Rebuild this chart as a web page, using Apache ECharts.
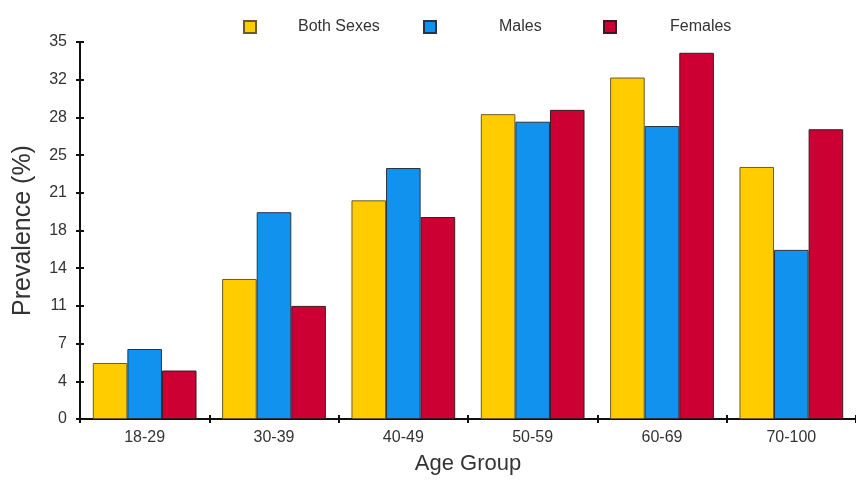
<!DOCTYPE html>
<html>
<head>
<meta charset="utf-8">
<script src="https://cdn.jsdelivr.net/npm/echarts@6/dist/echarts.min.js"></script>
<style>
html,body{margin:0;padding:0;background:#fff;}
#chart{width:856px;height:480px;}
</style>
</head>
<body>
<div id="chart"></div>
<script>
const categories = ['18-29', '30-39', '40-49', '50-59', '60-69', '70-100'];
const bothSexes = [5.2, 13.0, 20.3, 28.3, 31.7, 23.4];
const males = [6.5, 19.2, 23.3, 27.6, 27.2, 15.7];
const females = [4.5, 10.5, 18.75, 28.7, 34.0, 26.9];
const yTickLabels = ['0', '4', '7', '11', '14', '18', '21', '25', '28', '32', '35'];

const FONT = 'Liberation Sans, Arial, sans-serif';
const chart = echarts.init(document.getElementById('chart'));

function legendFor(name, left, pad) {
  return {
    data: [name], left: left, top: 19, padding: 0, itemWidth: 12, itemHeight: 12, icon: 'rect',
    textStyle: { fontFamily: FONT, fontSize: 16, color: '#333', padding: [0, 0, 0, pad] }
  };
}

const yBase = { type: 'value', min: 0, max: 35, interval: 3.5 };

chart.setOption({
  animation: false,
  backgroundColor: '#fff',
  legend: [
    legendFor('Both Sexes', 243, 37),
    legendFor('Males', 423, 58),
    legendFor('Females', 603, 49)
  ],
  grid: { left: 80, top: 42, width: 786, height: 382 },
  xAxis: [{
    type: 'category', data: categories,
    name: 'Age Group', nameLocation: 'middle', nameGap: 34,
    nameTextStyle: { fontFamily: FONT, fontSize: 22, color: '#333' },
    axisLine: { lineStyle: { color: '#111', width: 2 } },
    axisTick: { show: true, length: 4, lineStyle: { color: '#111', width: 2 } },
    axisLabel: { fontFamily: FONT, fontSize: 16, color: '#333', margin: 11 }
  }, {
    type: 'category', data: categories, position: 'bottom',
    axisLine: { show: false },
    axisTick: { show: true, inside: true, length: 4, lineStyle: { color: '#111', width: 2 } },
    axisLabel: { show: false }
  }],
  yAxis: [Object.assign({}, yBase, {
    name: 'Prevalence (%)', nameLocation: 'middle', nameGap: 44,
    nameTextStyle: { fontFamily: FONT, fontSize: 25, color: '#333' },
    axisLine: { show: true, lineStyle: { color: '#111', width: 2 } },
    axisTick: { show: true, length: 4, lineStyle: { color: '#111', width: 2 } },
    splitLine: { show: false },
    axisLabel: {
      fontFamily: FONT, fontSize: 16, color: '#333', margin: 13,
      formatter: function (v) { return yTickLabels[Math.round(v / 3.5)]; }
    }
  }), Object.assign({}, yBase, {
    position: 'left',
    axisLine: { show: false },
    axisTick: { show: true, inside: true, length: 4, lineStyle: { color: '#111', width: 2 } },
    splitLine: { show: false },
    axisLabel: { show: false }
  })],
  series: [{
    name: 'Both Sexes', type: 'bar', data: bothSexes,
    barGap: '0%', barCategoryGap: '19.8%',
    itemStyle: { color: '#FFCC00', borderColor: '#6b5a2a', borderWidth: 1 }
  }, {
    name: 'Males', type: 'bar', data: males,
    itemStyle: { color: '#1192EE', borderColor: '#2a3340', borderWidth: 1 }
  }, {
    name: 'Females', type: 'bar', data: females,
    itemStyle: { color: '#CC0033', borderColor: '#3a1a20', borderWidth: 1 }
  }]
});
</script>
</body>
</html>
